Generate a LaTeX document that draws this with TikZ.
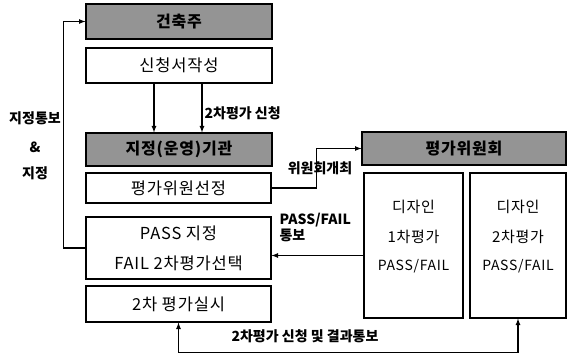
\documentclass[tikz,border=0pt]{standalone}
\usepackage{fontspec}
\setmainfont{Noto Sans CJK KR}
\newfontfamily\boxfont{Noto Sans CJK KR}[LetterSpace=5]
\tikzset{
  box/.style={draw,line width=1.2pt,fill=white,inner sep=0pt,font=\boxfont\fontsize{16.5}{18}\selectfont},
  headbox/.style={box,fill=black!42,font=\boxfont\fontsize{16}{18}\selectfont\bfseries},
  lbl/.style={inner sep=1pt,font=\fontsize{14}{16}\selectfont\bfseries},
  pftext/.style={font=\boxfont\fontsize{15}{30}\selectfont,align=center}
}
\begin{document}
\begin{tikzpicture}[x=1pt,y=-1pt,>=latex,line width=1.2pt]
  \useasboundingbox (0,0) rectangle (567,355);

  % Left column
  \node[headbox,minimum width=186,minimum height=35] (owner) at (179,21.5) {건축주};
  \node[box,minimum width=186,minimum height=35] (apply) at (179,65.5) {신청서작성};
  \node[headbox,minimum width=186,minimum height=33] (agency) at (179,149.5) {지정(운영)기관};
  \node[box,minimum width=185,minimum height=30] (select) at (178.5,188) {평가위원선정};
  \node[box,minimum width=185,minimum height=62,align=center,font=\boxfont\fontsize{16.5}{30}\selectfont] (result) at (178.5,248) {PASS 지정\\FAIL 2차평가선택};
  \node[box,minimum width=185,minimum height=36] (second) at (178.5,304) {2차 평가실시};

  % Right column
  \node[headbox,minimum width=204,minimum height=33] (committee) at (464,148.5) {평가위원회};
  \node[box,minimum width=99,minimum height=145] (first) at (413.5,245.5) {};
  \node[pftext] (firsttxt) at ([yshift=9pt]first.center) {디자인\\1차평가\\[-2pt]{\fontsize{14}{15}\selectfont PASS/FAIL}};
  \node[box,minimum width=96,minimum height=145] (design) at (518,245.5) {};
  \node[pftext] (designtxt) at ([yshift=9pt]design.center) {디자인\\2차평가\\[-2pt]{\fontsize{14}{15}\selectfont PASS/FAIL}};

  % Arrows
  \draw[->] (result.west) -- ++(-22,0) |- (owner.west);
  \draw[->] ([xshift=-25pt]apply.south) -- ([xshift=-25pt]agency.north);
  \draw[->] ([xshift=23pt]apply.south) -- ([xshift=23pt]agency.north);
  \draw[->] (select.east) -- ++(45,0) |- (committee.west);
  \draw[->] ([yshift=-10pt]first.west) -- ([yshift=-10pt]first.west -| result.east);
  \draw[<->] (second.south) -- ++(0,30) -| (design.south);

  % Labels
  \node[lbl] (notice) at (35,118) {지정통보};
  \node[lbl] (amp) at (35,147) {\&};
  \node[lbl] (desig) at (35,173) {지정};
  \node[lbl,anchor=west] (request) at (203,113) {2차평가 신청};
  \node[lbl] (meeting) at (320,168) {위원회개최};
  \node[lbl,anchor=west,align=left] (notify) at (278,227) {PASS/FAIL\\통보};
  \node[lbl] (reqresult) at (305,336) {2차평가 신청 및 결과통보};

\end{tikzpicture}
\end{document}
